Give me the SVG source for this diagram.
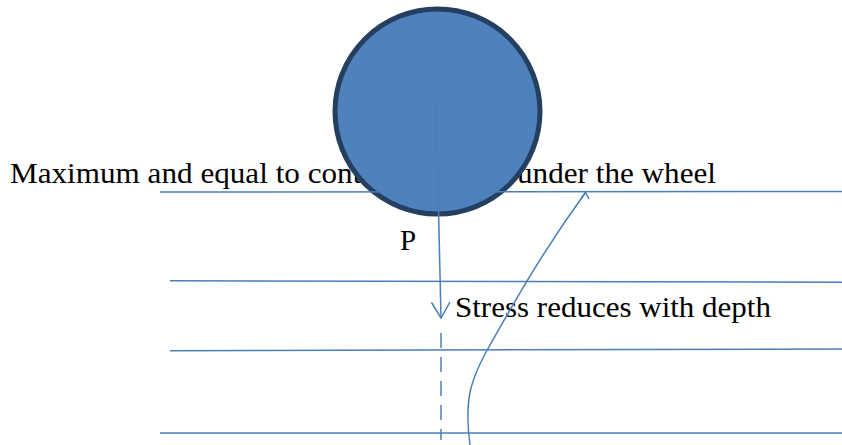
<svg xmlns="http://www.w3.org/2000/svg" width="842" height="445" viewBox="0 0 842 445">
<style>
  .t { font-family: "Liberation Serif", "Times New Roman", serif; font-size: 29px; fill: #000; }
  .ln { stroke: #4a7ebb; stroke-width: 1.5; fill: none; }
</style>
<rect width="842" height="445" fill="#fff"/>
<g id="label-max">
  <text class="t" x="10" y="182.5" textLength="706" lengthAdjust="spacingAndGlyphs">Maximum and equal to contact pressure under the wheel</text>
</g>
<g id="wheel">
  <circle cx="437.5" cy="111.5" r="102.5" fill="#4f81bd" stroke="#243f60" stroke-width="5"/>
</g>
<g id="layers">
  <line class="ln" x1="160" y1="192" x2="842" y2="191.5"/>
  <line class="ln" x1="170" y1="280.7" x2="842" y2="282.3"/>
  <line class="ln" x1="170" y1="350.7" x2="842" y2="349"/>
  <line class="ln" x1="160" y1="433" x2="842" y2="433"/>
</g>
<g id="label-p">
  <text class="t" x="400" y="250">P</text>
</g>
<g id="label-stress">
  <text class="t" x="455" y="317" textLength="316" lengthAdjust="spacingAndGlyphs">Stress reduces with depth</text>
</g>
<g id="connectors">
  <path class="ln" d="M436,100 L441,318"/>
  <path class="ln" d="M431.5,302.5 L441,318 L450,302"/>
  <line class="ln" x1="441" y1="333" x2="441" y2="440" stroke-dasharray="15 9"/>
  <path class="ln" d="M470,445 C464,400 470,380 490,345 S540,255 585.5,192.5"/>
  <path class="ln" d="M580.5,199.5 L585.5,192.5 L589,199"/>
</g>
</svg>
